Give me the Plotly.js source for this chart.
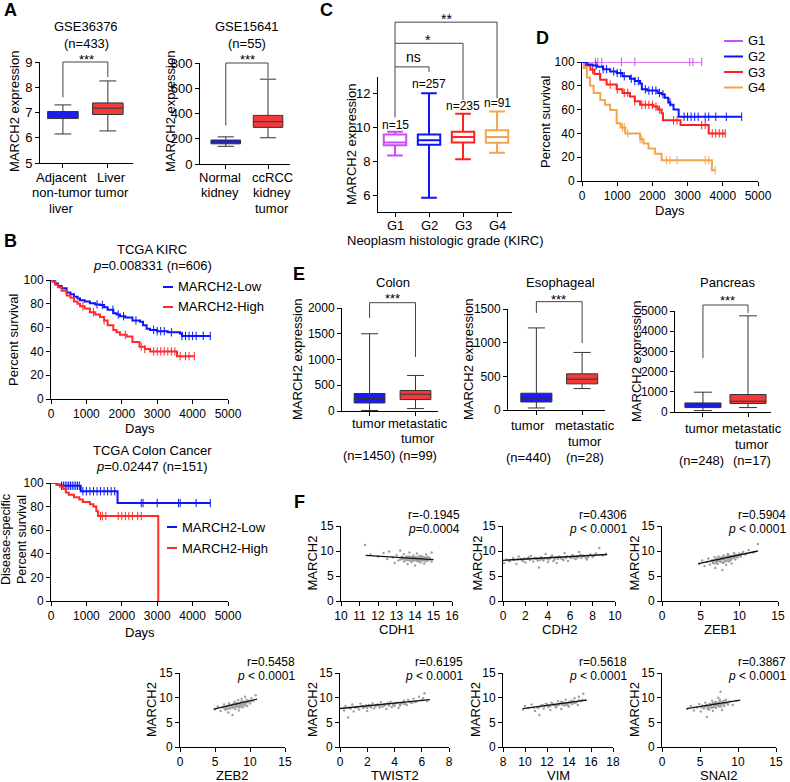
<!DOCTYPE html>
<html><head><meta charset="utf-8">
<script src="https://cdn.plot.ly/plotly-3.0.1.min.js"></script>
<style>html,body{margin:0;padding:0;background:#fff}#chart{width:790px;height:782px}</style>
</head><body><div id="chart"></div>
<script>
// ===== DATA =====
// Panel A (box summaries)
const A1_cats = [["Adjacent", "non-tumor", "liver"], ["Liver", "tumor"]];
const A1_q1 = [6.76, 6.92], A1_med = [6.89, 7.17], A1_q3 = [7.04, 7.38], A1_lo = [6.15, 6.27], A1_hi = [7.3, 8.25];
const A2_cats = [["Normal", "kidney"], ["ccRCC", "kidney", "tumor"]];
const A2_q1 = [160, 290], A2_med = [175, 335], A2_q3 = [190, 385], A2_lo = [140, 208], A2_hi = [215, 672];

// Panel B (Kaplan-Meier)
const KIRC_low_t = [0,50,120,200,300,441,550,650,750,820,950,1100,1250,1384,1500,1600,1761,1850,1949,2100,2300,2514,2600,2700,2797,3000,3300,3644,3700,4500];
const KIRC_low_s = [100,99,97,95,93,89.5,88,86,84.5,83,82,80.5,79.5,79,77,75,72,71,69.5,68.5,66,65,62,59,58,57,56,55,53,53];
const KIRC_low_c = [1300,1450,1750,1900,2050,2400,2900,3000,3100,3200,3400,3700,3800,3900,4000,4100,4300,4500];
const KIRC_high_t = [0,50,120,200,300,441,550,650,750,819,950,1100,1250,1384,1500,1600,1761,1850,1949,2137,2300,2500,2650,2800,3560,4050];
const KIRC_high_s = [100,98.5,96,94,91,87,85,82,80,78,76,73,71,69,66,62,58,56,54,52.6,48,44,42,40,36,36];
const KIRC_high_c = [900,1200,1500,2100,2550,2650,2900,3000,3100,3200,3300,3400,3500,3650,3800,3900,4050];
const COAD_low_t = [0,180,290,840,1880,4500];
const COAD_low_s = [100,98.5,97.7,93,83,83];
const COAD_low_c = [300,350,400,450,500,550,600,650,700,750,800,900,1000,1100,1200,1300,1400,1500,1600,1700,1800,2550,2600,3000,3600,3650,4100,4500];
const COAD_high_t = [0,150,250,350,420,500,650,800,900,1100,1200,1280,1330,3030];
const COAD_high_s = [100,98.5,97,95,92,90,88,86,84,82,80,76,72,0];
const COAD_high_c = [1400,1450,1550,1900,2000,2100,2200,2300,2450,2550];

// Panel C (box summaries by grade)
const C_cats = ["G1","G2","G3","G4"];
const C_n = ["n=15","n=257","n=235","n=91"];
const C_q1 = [8.96, 8.98, 9.12, 9.1], C_med = [9.12, 9.25, 9.45, 9.45], C_q3 = [9.6, 9.6, 9.76, 9.84];
const C_lo = [8.35, 5.84, 8.12, 8.51], C_hi = [9.75, 12.04, 10.82, 10.96];

// Panel D (Kaplan-Meier by grade)
const D_G1_t = [0,3400], D_G1_s = [100,100];
const D_G1_c = [380,450,560,1120,1500,3060,3150,3400];
const D_G2_t = [0,150,300,426,600,800,985,1150,1363,1500,1650,1700,1850,2026,2150,2263,2350,2450,2510,2600,2746,4536];
const D_G2_s = [100,98,97,96,94,92,90.7,88,86,84,82,77,76,76,74,73,70,66,64,60,54,54];
const D_G2_c = [400,600,700,900,1000,1100,1200,1400,1500,1600,1800,1900,2000,2100,2200,2300,2500,2900,3000,3100,3200,3300,3500,3600,3800,4100,4536];
const D_G3_t = [0,100,237,350,520,700,985,1150,1363,1500,1650,2026,2150,2263,2300,2800,3600,4070];
const D_G3_s = [100,97,93.5,90,85,81,77,74,71,67,64,62.5,60,57,51,47,40,40];
const D_G3_c = [300,500,800,1000,1200,1300,1500,1700,1800,1900,2000,2100,2200,2600,2700,3400,3500,3700,3800,3900,4000,4070];
const D_G4_t = [0,47,140,230,330,520,650,800,985,1100,1230,1560,1650,1750,1890,2075,2263,3690,3785];
const D_G4_s = [100,95,87,80,74,68,64,59.6,48.5,45,40,40,35,31.6,27.3,23,17.5,9,9];
const D_G4_c = [1150,1200,1300,1650,1700,2400,2500,2700,3500,3600,3785];

// Panel E (box summaries)
const E_col_cats = [["tumor", "", "(n=1450)"], ["metastatic", "tumor", "(n=99)"]];
const E_eso_cats = [["tumor", "", "(n=440)"], ["metastatic", "tumor", "(n=28)"]];
const E_pan_cats = [["tumor", "", "(n=248)"], ["metastatic", "tumor", "(n=17)"]];
const E_col_q1 = [156, 222], E_col_med = [242, 326], E_col_q3 = [340, 398], E_col_lo = [10, 47], E_col_hi = [1500, 690];
const E_eso_q1 = [119, 388], E_eso_med = [175, 458], E_eso_q3 = [249, 537], E_eso_lo = [30, 318], E_eso_hi = [1219, 855];
const E_pan_q1 = [219, 418], E_pan_med = [333, 532], E_pan_q3 = [448, 866], E_pan_lo = [70, 219], E_pan_hi = [980, 4760];

// Panel F (scatter samples read from the clouds: spread points + dense core)
const F_CDH1_x = [11.3,11.6,12.0,12.3,12.5,12.6,12.8,12.9,13.0,13.1,13.2,13.3,13.4,13.4,13.5,13.6,13.6,13.7,13.7,13.8,13.8,13.9,13.9,14.0,14.0,14.1,14.1,14.2,14.3,14.3,14.4,14.5,14.5,14.6,14.7,14.8,14.9,14.9,13.5,14.2,13.9,14.6,13.3,14.0,13.7,14.4,13.2,14.8,13.6,14.1,13.8,14.3,14.7,13.4,14.5,13.9,14.2,14.0,
  13.3,13.5,13.6,13.8,13.9,14.0,14.1,14.2,14.3,14.4,14.5,14.6,14.7,13.4,13.7,14.0,14.2,14.4,13.6,13.9,14.1,14.3,14.6,14.8,13.5];
const F_CDH1_y = [11.2,9.3,8.9,9.6,8.4,9.9,8.7,7.6,9.2,8.1,10.1,8.6,7.9,9.4,8.3,8.9,7.4,8.1,9.7,8.6,7.8,9.1,8.3,7.1,8.8,9.5,8.0,8.5,7.7,9.0,8.2,8.7,7.5,9.3,8.1,8.6,7.9,9.7,8.5,8.4,8.6,8.0,8.9,8.2,8.4,8.9,8.3,8.4,8.7,8.3,8.2,8.6,8.8,8.5,8.1,8.9,7.9,8.5,
  8.4,8.8,8.2,8.7,8.0,8.6,8.3,8.9,8.5,8.1,8.4,8.7,8.2,8.6,8.9,8.3,8.0,8.6,8.5,8.4,8.7,8.2,8.5,8.3,8.1];
const F_CDH2_x = [0.1,0.3,0.6,0.9,1.2,1.4,1.7,2.0,2.2,2.5,2.7,3.0,3.2,3.4,3.6,3.8,4.0,4.2,4.4,4.6,4.8,5.0,5.3,5.5,5.8,6.0,6.2,6.5,6.8,7.0,7.2,7.5,7.8,8.0,8.3,8.6,8.9,9.2,1.0,2.8,4.5,5.6,6.6,3.3,2.1,1.6,3.9,5.1,6.3,7.3,
  0.5,1.3,1.9,2.4,2.9,3.5,4.1,4.7,5.2,5.7,6.1,6.7,7.1,7.6,8.1,1.8,3.1,4.3,5.4,6.4,7.4,2.3,3.7,4.9,6.9];
const F_CDH2_y = [7.6,8.3,7.9,8.6,7.4,8.9,8.1,7.7,8.5,9.0,7.9,8.4,6.7,8.8,8.1,9.4,7.8,8.6,9.1,8.3,7.6,8.9,8.4,9.6,8.0,8.7,9.2,8.4,9.8,8.6,9.0,8.3,9.3,8.8,9.5,10.6,9.1,9.4,8.2,8.6,8.0,8.6,8.9,8.2,8.4,8.4,8.5,8.7,8.8,9.0,
  8.1,8.3,8.5,8.2,8.6,8.4,8.3,8.7,8.5,8.9,8.6,8.7,9.1,8.8,9.0,8.0,8.1,8.9,8.2,8.5,8.6,8.8,8.5,8.4,9.2];
const F_ZEB1_x = [4.8,5.2,5.5,5.8,6.0,6.2,6.4,6.6,6.8,6.9,7.0,7.2,7.3,7.5,7.6,7.8,7.9,8.0,8.1,8.3,8.4,8.5,8.6,8.8,8.9,9.0,9.2,9.3,9.5,9.6,9.8,10.0,10.2,10.5,10.8,11.2,11.8,12.4,7.0,8.2,7.7,9.0,6.5,7.4,8.7,7.1,8.0,9.4,
  6.6,6.9,7.1,7.3,7.5,7.7,7.9,8.1,8.3,8.5,8.7,8.9,9.1,9.3,9.6,9.9,7.2,7.8,8.4,8.8,9.4,6.8,7.6,8.6,10.3];
const F_ZEB1_y = [7.4,8.1,7.0,7.8,8.5,7.3,8.0,7.6,8.8,6.6,8.2,7.4,8.9,7.9,8.4,6.2,7.6,9.1,8.2,7.2,8.7,9.4,7.9,8.5,9.0,7.5,8.8,9.6,8.3,9.2,8.7,9.5,8.9,9.8,9.3,10.2,9.7,11.4,7.8,8.0,8.3,8.4,8.2,8.1,8.6,8.5,7.7,8.9,
  7.9,8.3,7.7,8.2,8.6,7.8,8.4,8.7,8.0,8.3,8.8,8.2,9.0,8.6,8.9,9.1,8.0,8.8,8.9,8.1,9.3,7.5,8.5,9.2,9.4];
const F_ZEB2_x = [5.0,5.4,5.8,6.1,6.3,6.5,6.7,6.9,7.0,7.2,7.4,7.5,7.6,7.8,7.9,8.0,8.2,8.3,8.4,8.5,8.7,8.8,8.9,9.0,9.2,9.3,9.5,9.6,9.8,10.0,10.2,10.5,10.8,7.3,8.1,8.6,6.8,7.7,9.1,8.0,
  6.6,6.9,7.1,7.4,7.6,7.9,8.1,8.3,8.5,8.7,8.9,9.1,9.4,9.7,7.0,7.5,8.0,8.4,8.8,9.2,6.4,7.8,8.6,9.5,10.1];
const F_ZEB2_y = [7.6,8.2,7.3,8.0,8.6,7.5,8.3,7.0,8.9,7.9,8.5,6.5,8.1,9.2,7.7,8.6,8.2,9.5,7.4,8.9,8.4,9.8,8.0,9.1,8.6,10.2,9.0,8.3,9.4,8.8,9.9,9.3,10.5,8.4,8.5,8.7,7.7,8.8,8.9,8.3,
  8.0,8.2,7.8,8.3,8.7,8.1,8.9,8.4,8.6,9.0,8.5,9.2,8.7,9.1,8.5,7.9,8.8,8.0,9.3,8.3,7.8,8.6,8.2,9.6,9.2];
const F_TWIST2_x = [0.3,0.4,0.6,0.7,0.9,1.0,1.2,1.4,1.5,1.7,1.9,2.0,2.2,2.4,2.5,2.7,2.9,3.0,3.2,3.4,3.5,3.7,3.8,4.0,4.2,4.3,4.5,4.7,4.9,5.0,5.2,5.4,5.6,5.8,6.0,6.2,6.4,3.3,2.6,4.4,1.1,5.5,3.6,2.3,
  1.3,1.6,1.8,2.1,2.3,2.6,2.8,3.1,3.3,3.6,3.9,4.1,4.4,4.6,4.8,5.1,5.3,2.0,2.9,3.5,4.0,4.7,5.6,0.8,6.1];
const F_TWIST2_y = [7.4,8.3,6.0,7.9,8.6,7.2,8.1,7.6,8.8,7.9,8.4,7.3,8.2,8.9,7.8,8.5,8.0,9.1,8.3,7.7,8.7,9.2,8.1,8.6,9.0,7.9,8.8,9.4,8.5,9.6,9.0,9.8,9.2,10.2,9.5,10.9,9.3,8.5,8.2,8.4,8.0,9.1,8.5,8.4,
  8.0,8.3,8.1,8.5,8.0,8.4,8.6,8.2,8.7,8.4,8.5,8.9,8.6,9.0,8.8,9.2,8.9,7.9,8.3,8.9,8.3,8.7,9.3,7.8,9.9];
const F_VIM_x = [9.8,10.0,10.3,10.6,10.9,11.1,11.3,11.5,11.7,11.9,12.1,12.3,12.4,12.6,12.8,13.0,13.1,13.3,13.4,13.6,13.7,13.9,14.0,14.2,14.3,14.5,14.6,14.8,14.9,15.1,15.3,15.5,12.9,13.8,11.8,14.4,12.2,13.5,14.1,13.2,
  11.4,11.6,12.0,12.3,12.5,12.7,13.0,13.2,13.4,13.6,13.8,14.0,14.2,14.4,14.7,14.9,12.1,12.9,13.3,13.9,14.5,15.2,10.8,11.2,13.7];
const F_VIM_y = [7.6,8.3,7.9,8.6,7.3,8.1,6.5,8.4,7.8,8.8,8.2,7.5,9.0,8.5,8.0,9.3,8.6,7.7,9.1,8.4,9.6,8.8,8.2,9.4,8.7,9.9,9.0,8.5,10.2,9.3,10.8,9.5,8.7,8.9,8.3,9.2,8.4,8.8,9.0,8.9,
  8.2,8.5,8.6,8.3,8.8,8.4,8.6,8.9,8.5,9.0,8.6,9.1,8.8,9.3,9.1,9.5,8.1,8.3,9.2,8.4,8.9,9.6,8.0,7.9,8.7];
const F_SNAI2_x = [3.3,3.8,4.2,4.6,4.9,5.1,5.3,5.5,5.7,5.9,6.0,6.2,6.3,6.5,6.6,6.7,6.9,7.0,7.1,7.3,7.4,7.5,7.6,7.7,7.8,7.9,8.0,8.2,8.4,8.6,8.9,9.3,9.8,6.4,7.2,5.8,6.8,7.0,7.5,6.1,
  5.6,5.9,6.1,6.3,6.5,6.7,6.9,7.1,7.3,7.5,7.7,7.9,8.1,8.3,8.5,6.0,6.6,7.2,7.8,8.2,5.2,6.8,7.4,7.6,8.7];
const F_SNAI2_y = [7.7,8.3,7.4,8.0,8.7,7.2,8.4,7.8,9.0,6.1,8.2,7.6,8.8,8.0,9.4,7.3,8.5,9.1,7.9,8.7,10.0,8.2,9.3,11.2,8.6,7.5,9.0,8.3,9.6,8.8,9.2,8.5,9.4,8.4,8.5,8.3,8.1,8.6,8.8,7.9,
  8.1,8.5,7.9,8.3,8.6,8.9,8.2,8.7,8.4,8.9,8.5,9.2,8.7,8.9,9.0,7.7,8.0,9.1,8.2,9.4,8.0,8.8,8.6,9.6,8.6];
// fitted regression lines (end points)
const F_fit = {
  CDH1: [[11.33, 15.0], [9.14, 8.28]], CDH2: [[0, 9.3], [8.14, 9.3]], ZEB1: [[4.7, 12.4], [7.48, 10.0]],
  ZEB2: [[4.8, 11.0], [7.7, 9.7]], TWIST2: [[0, 6.6], [7.8, 9.6]], VIM: [[9.8, 15.6], [7.8, 9.5]], SNAI2: [[3.25, 10.3], [7.8, 9.5]]
};
const F_stats = {
  CDH1: ["r=-0.1945", "<i>p</i>=0.0004"], CDH2: ["r=0.4306", "<i>p</i> < 0.0001"], ZEB1: ["r=0.5904", "<i>p</i> < 0.0001"],
  ZEB2: ["r=0.5458", "<i>p</i> < 0.0001"], TWIST2: ["r=0.6195", "<i>p</i> < 0.0001"], VIM: ["r=0.5618", "<i>p</i> < 0.0001"], SNAI2: ["r=0.3867", "<i>p</i> < 0.0001"]
};

// ===== BUILD =====
const W = 790, H = 782;
const FONT = "'Liberation Sans', Arial, Helvetica, sans-serif";
const BLUE = '#1a1aff', RED = '#f23a3a', KBLUE = '#0a14ff', KRED = '#ff2a2a';
const G_COL = ['#cc4df5', '#0a14ff', '#ff2020', '#f3a54c'];
const layout = {
  width: W, height: H, margin: {l: 0, r: 0, t: 0, b: 0}, showlegend: false,
  paper_bgcolor: '#fff', plot_bgcolor: 'rgba(0,0,0,0)',
  font: {family: FONT, size: 12, color: '#000'}, annotations: [], shapes: []
};
const traces = [];
const base = {showline: true, linecolor: '#000', linewidth: 1, ticks: 'outside', ticklen: 4, tickwidth: 1,
  tickcolor: '#000', showgrid: false, zeroline: false, fixedrange: true, type: 'linear', ticklabelstandoff: 0, tickangle: 0};
let axN = 0;
function addAxes(x0, x1, ytop, ybot, xr, yr, xo, yo) {
  axN++;
  const s = axN === 1 ? '' : String(axN);
  layout['xaxis' + s] = Object.assign({}, base, {domain: [x0 / W, x1 / W], range: xr, anchor: 'y' + s}, xo || {});
  layout['yaxis' + s] = Object.assign({}, base, {domain: [1 - ybot / H, 1 - ytop / H], range: yr, anchor: 'x' + s}, yo || {});
  return {x: 'x' + s, y: 'y' + s, xr, yr, x0, x1, ytop, ybot};
}
function pxX(a, v) { return a.x0 + (v - a.xr[0]) / (a.xr[1] - a.xr[0]) * (a.x1 - a.x0); }
function pxY(a, v) { return a.ybot - (v - a.yr[0]) / (a.yr[1] - a.yr[0]) * (a.ybot - a.ytop); }
function ann(text, x, y, o) {
  layout.annotations.push(Object.assign({text, x: x / W, y: 1 - y / H, xref: 'paper', yref: 'paper', showarrow: false,
    xanchor: 'center', yanchor: 'middle', font: {size: 13, family: FONT, color: '#000'}}, o || {}));
}
function letter(t, x, y) { ann('<b>' + t + '</b>', x, y, {font: {size: 18, family: FONT, color: '#000'}}); }
function bracket(a, xa, xb, top, ya, yb) {
  const X = v => pxX(a, v) / W, Y = v => 1 - pxY(a, v) / H;
  layout.shapes.push({type: 'path', xref: 'paper', yref: 'paper',
    path: `M ${X(xa)},${Y(ya)} L ${X(xa)},${Y(top)} L ${X(xb)},${Y(top)} L ${X(xb)},${Y(yb)}`,
    line: {color: '#444', width: 1}});
}
function legLine(x0, x1, y, color) {
  layout.shapes.push({type: 'line', xref: 'paper', yref: 'paper', x0: x0 / W, x1: x1 / W, y0: 1 - y / H, y1: 1 - y / H, line: {color, width: 2}});
}
// category labels as stacked text lines under a box axis
function catLabels(a, cats, offs, y0, dy) {
  cats.forEach((lines, i) => lines.forEach((t, j) => { if (t) ann(t, pxX(a, i) + offs[i], y0 + j * dy); }));
}
function boxes(a, q1, med, q3, lo, hi, fills, lines, width, ww, lw) {
  for (let i = 0; i < q1.length; i++) {
    traces.push({type: 'box', xaxis: a.x, yaxis: a.y, x: [i], q1: [q1[i]], median: [med[i]], q3: [q3[i]],
      lowerfence: [lo[i]], upperfence: [hi[i]], boxpoints: false, width: width, whiskerwidth: ww,
      fillcolor: fills[i], line: {color: lines[i], width: lw}, hoverinfo: 'skip'});
  }
}
function survAt(t, s, d) { let v = s[0]; for (let i = 0; i < t.length; i++) if (t[i] <= d) v = s[i]; return v; }
function km(a, t, s, c, color, w) {
  traces.push({type: 'scatter', mode: 'lines', xaxis: a.x, yaxis: a.y, x: t, y: s, line: {shape: 'hv', color, width: w}, hoverinfo: 'skip', cliponaxis: false});
  traces.push({type: 'scatter', mode: 'markers', xaxis: a.x, yaxis: a.y, x: c, y: c.map(d => survAt(t, s, d)),
    marker: {symbol: 'line-ns-open', size: 6, color, line: {color, width: 1}}, hoverinfo: 'skip', cliponaxis: false});
}
const catAxis = n => ({tickvals: [...Array(n).keys()], ticktext: Array(n).fill(''), showticklabels: false});

// ---- Panel A ----
letter('A', 10, 10);
const aL = addAxes(40, 133, 62, 163, [-0.51, 1.56], [5, 9], catAxis(2), {dtick: 1, tickfont: {size: 13}});
boxes(aL, A1_q1, A1_med, A1_q3, A1_lo, A1_hi, [BLUE, RED], ['#333', '#333'], 0.68, 0.55, 1);
bracket(aL, 0, 1, 9, 7.6, 8.4);
catLabels(aL, A1_cats, [-1, 4], 177, 15.5);
ann('GSE36376', 86, 27); ann('(n=433)', 86, 43); ann('***', 86, 59.5);
ann('MARCH2 expression', 14, 112, {textangle: -90});
const aR = addAxes(200, 290, 63, 164, [-0.61, 1.52], [0, 800], catAxis(2), {dtick: 200, tickfont: {size: 13}});
boxes(aR, A2_q1, A2_med, A2_q3, A2_lo, A2_hi, [BLUE, RED], ['#333', '#333'], 0.7, 0.55, 1);
bracket(aR, 0, 1, 800, 305, 680);
catLabels(aR, A2_cats, [-6, 4], 177, 15.5);
ann('GSE15641', 247, 27); ann('(n=55)', 247, 43); ann('***', 247, 59.5);
ann('MARCH2 expression', 170, 112, {textangle: -90});

// ---- Panel B ----
letter('B', 10, 241);
const bT = addAxes(51, 228, 280, 399, [0, 5000], [0, 100], {dtick: 1000}, {dtick: 20});
km(bT, KIRC_low_t, KIRC_low_s, KIRC_low_c, KBLUE, 2);
km(bT, KIRC_high_t, KIRC_high_s, KIRC_high_c, KRED, 2);
ann('TCGA KIRC', 152, 249); ann('<i>p</i>=0.008331 (n=606)', 152, 265);
ann('Percent survival', 14, 340, {textangle: -90});
ann('Days', 140, 429);
legLine(163, 173, 287, KBLUE); ann('MARCH2-Low', 176, 287, {xanchor: 'left'});
legLine(163, 173, 307, KRED); ann('MARCH2-High', 176, 307, {xanchor: 'left'});
const bB = addAxes(51, 228, 483, 601, [0, 5000], [0, 100], {dtick: 1000}, {dtick: 20});
km(bB, COAD_low_t, COAD_low_s, COAD_low_c, KBLUE, 2);
km(bB, COAD_high_t, COAD_high_s, COAD_high_c, KRED, 2);
ann('TCGA Colon Cancer', 152, 450); ann('<i>p</i>=0.02447 (n=151)', 152, 466);
ann('Disease-specific<br>Percent survival', 14, 540, {textangle: -90, font: {size: 12.5, family: FONT, color: '#000'}});
ann('Days', 140, 632);
legLine(167, 177, 527, KBLUE); ann('MARCH2-Low', 180, 527, {xanchor: 'left'});
legLine(167, 177, 548, KRED); ann('MARCH2-High', 180, 548, {xanchor: 'left'});

// ---- Panel C ----
letter('C', 326, 10);
const cA = addAxes(378, 512, 77, 212, [-0.5, 3.44], [5, 13], catAxis(4), {tickvals: [6, 8, 10, 12], tickfont: {size: 13}});
boxes(cA, C_q1, C_med, C_q3, C_lo, C_hi, ['#fff', '#fff', '#fff', '#fff'], G_COL, 0.66, 0.7, 2);
bracket(cA, 0, 1, 13.6, 10.6, 13.3);
bracket(cA, 0, 2, 15.0, 13.6, 11.65);
bracket(cA, 0, 3, 16.25, 15.0, 11.75);
ann('ns', 413, 57, {font: {size: 14, family: FONT}}); ann('*', 428, 40.5, {font: {size: 14, family: FONT}}); ann('**', 446, 18.5, {font: {size: 14, family: FONT}});
const nY = [125, 84, 106, 103];
for (let i = 0; i < 4; i++) ann(C_n[i], pxX(cA, i), nY[i], {font: {size: 12, family: FONT}});
catLabels(cA, C_cats.map(c => [c]), [0, 0, 0, 0], 225, 0);
ann('MARCH2 expression', 351, 145, {textangle: -90});
ann('Neoplasm histologic grade (KIRC)', 445, 241);

// ---- Panel D ----
letter('D', 542, 38);
const dA = addAxes(582, 758, 62, 181, [0, 5000], [0, 100], {dtick: 1000}, {dtick: 20});
km(dA, D_G1_t, D_G1_s, D_G1_c, G_COL[0], 1.5);
km(dA, D_G4_t, D_G4_s, D_G4_c, G_COL[3], 2);
km(dA, D_G3_t, D_G3_s, D_G3_c, G_COL[2], 2);
km(dA, D_G2_t, D_G2_s, D_G2_c, G_COL[1], 2);
ann('Percent survival', 545, 122, {textangle: -90});
ann('Days', 670, 210);
const legY = [41, 56.5, 72, 87.5];
for (let i = 0; i < 4; i++) { legLine(724, 743, legY[i], G_COL[i]); ann(C_cats[i], 746, legY[i], {xanchor: 'left', font: {size: 13, family: FONT}}); }

// ---- Panel E ----
letter('E', 299, 274);
const eC = addAxes(342, 438, 308, 411, [-0.6, 1.49], [0, 2000], catAxis(2), {dtick: 500});
boxes(eC, E_col_q1, E_col_med, E_col_q3, E_col_lo, E_col_hi, [BLUE, RED], ['#333', '#333'], 0.67, 0.55, 1);
bracket(eC, 0, 1, 2103, 1806, 1049);
catLabels(eC, E_col_cats, [-1, 3], 423, 16);
ann('Colon', 393, 282); ann('***', 392, 298);
ann('MARCH2 expression', 298, 360, {textangle: -90});
const eE = addAxes(508, 605, 309, 410, [-0.62, 1.5], [0, 1500], catAxis(2), {dtick: 500});
boxes(eE, E_eso_q1, E_eso_med, E_eso_q3, E_eso_lo, E_eso_hi, [BLUE, RED], ['#333', '#333'], 0.68, 0.55, 1);
bracket(eE, 0, 1, 1609, 1441, 995);
catLabels(eE, E_eso_cats, [-8, 3], 425, 16);
ann('Esophageal', 560, 282); ann('***', 558, 299.5);
ann('MARCH2 expression', 469, 360, {textangle: -90});
const eP = addAxes(675, 771, 311, 412, [-0.62, 1.51], [0, 5000], catAxis(2), {dtick: 1000});
boxes(eP, E_pan_q1, E_pan_med, E_pan_q3, E_pan_lo, E_pan_hi, [BLUE, RED], ['#333', '#333'], 0.8, 0.5, 1);
bracket(eP, 0, 1, 5297, 2673, 4901);
catLabels(eP, E_pan_cats, [-1, 4], 429, 15.5);
ann('Pancreas', 727, 282); ann('***', 727, 300.5);
ann('MARCH2 expression', 636, 362, {textangle: -90});

// ---- Panel F ----
letter('F', 299, 502);
const fPanels = [
  ['CDH1', 341, 452, 526, 601, [10, 16], 1, F_CDH1_x, F_CDH1_y, 312, 462, 515],
  ['CDH2', 503, 615, 526, 601, [0, 10], 2, F_CDH2_x, F_CDH2_y, 477, 629, 515],
  ['ZEB1', 662, 778, 526, 601, [0, 15], 5, F_ZEB1_x, F_ZEB1_y, 634, 788, 515],
  ['ZEB2', 180, 285, 673, 747, [0, 15], 5, F_ZEB2_x, F_ZEB2_y, 151, 297, 662],
  ['TWIST2', 340, 449, 673, 747, [0, 8], 2, F_TWIST2_x, F_TWIST2_y, 312, 465, 662],
  ['VIM', 503, 613, 673, 747, [8, 18], 2, F_VIM_x, F_VIM_y, 475, 629, 662],
  ['SNAI2', 662, 776, 673, 747, [0, 15], 5, F_SNAI2_x, F_SNAI2_y, 634, 788, 662]
];
const statFont = {size: 12, family: FONT, color: '#000'};
fPanels.forEach(p => {
  const [name, x0, x1, yt, yb, xr, dt, xs, ys, ytx, rx, ry] = p;
  const a = addAxes(x0, x1, yt, yb, xr, [0, 15], {dtick: dt, tick0: xr[0]}, {dtick: 5});
  traces.push({type: 'scatter', mode: 'markers', xaxis: a.x, yaxis: a.y, x: xs, y: ys,
    marker: {size: 2.4, color: '#a0a0a0'}, hoverinfo: 'skip'});
  traces.push({type: 'scatter', mode: 'lines', xaxis: a.x, yaxis: a.y, x: F_fit[name][0], y: F_fit[name][1],
    line: {color: '#111', width: 1.3}, hoverinfo: 'skip'});
  ann('MARCH2', ytx, (yt + yb) / 2, {textangle: -90});
  ann(name, (x0 + x1) / 2, yb + 28.5);
  ann(F_stats[name][0], rx, ry - 0.5, {xanchor: 'right', font: statFont});
  ann(F_stats[name][1], rx, ry + 13.5, {xanchor: 'right', font: statFont});
});

Plotly.newPlot('chart', traces, layout, {staticPlot: true, displayModeBar: false});
</script></body></html>
